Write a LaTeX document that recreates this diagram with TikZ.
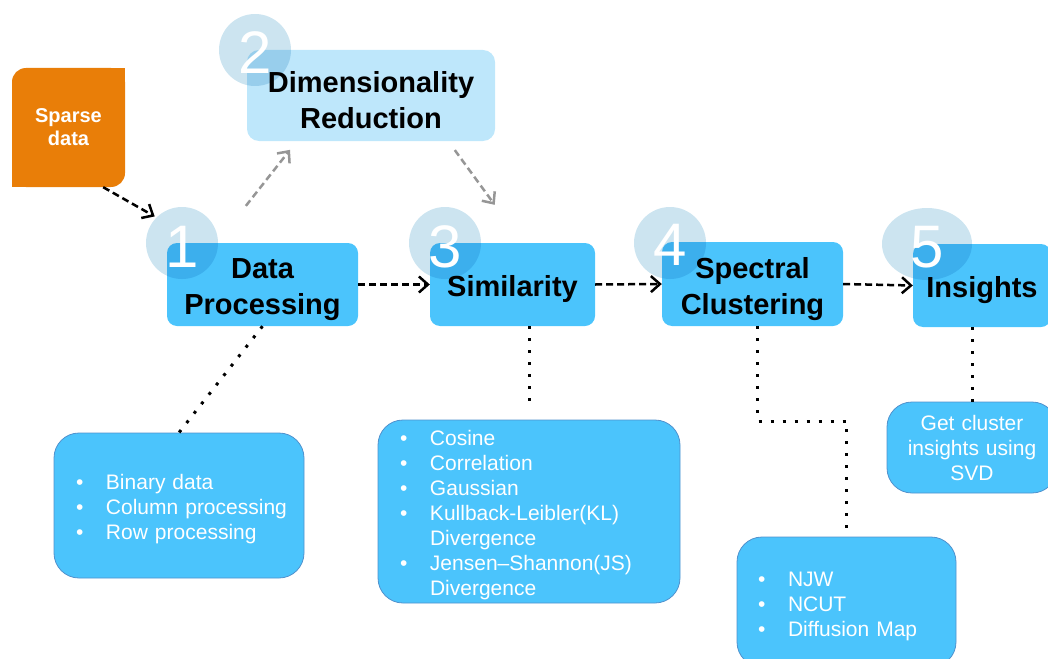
\documentclass[tikz,border=0pt]{standalone}
\usepackage{fontspec}
\setmainfont{Liberation Sans}
\usetikzlibrary{arrows.meta,calc,shapes.geometric}

\definecolor{boxblue}{RGB}{75,196,252}
\definecolor{paleblue}{RGB}{190,231,251}
\definecolor{badgeblue}{RGB}{204,228,240}
\definecolor{sparseorange}{RGB}{233,126,8}
\definecolor{edgeblue}{RGB}{80,145,205}
\definecolor{arrowgray}{RGB}{150,150,150}

\newcommand{\bul}{\makebox[30pt][l]{\textbullet}}
\newcommand{\cont}{\hspace*{30pt}}
\newcommand{\lift}{\rule{0pt}{31pt}}
\newcommand{\drop}{\rule{0pt}{23pt}}

\tikzset{
  stage/.style={fill=boxblue, rounded corners=10pt, align=center, inner sep=0pt,
    font=\bfseries\fontsize{29}{36}\selectfont},
  listbox/.style={fill=boxblue, draw=edgeblue, line width=0.8pt, rounded corners=25pt,
    align=left, text=white, inner sep=0pt, font=\fontsize{21}{25}\selectfont},
  badge/.style={circle, fill=badgeblue, minimum size=72, inner sep=0pt},
  badgenum/.style={text=white, font=\fontsize{60}{60}\selectfont, inner sep=0pt},
  flow/.style={dash pattern=on 7pt off 4pt, line width=2.5pt,
    -{Straight Barb[length=9pt,width=16pt]}},
  link/.style={dash pattern=on 3pt off 9pt, line width=3pt},
}

\begin{document}
\begin{tikzpicture}[x=1pt, y=-1pt]
  \useasboundingbox (0,0) rectangle (1048,658);
  \clip (0,0) rectangle (1048,658);

  % input
  \node[fill=sparseorange, rounded corners=14pt, minimum width=113, minimum height=119,
    text=white, align=center, font=\bfseries\fontsize{20}{23}\selectfont] (sparse) at (68.5,127.5) {Sparse\\data};
  \fill[sparseorange] (sparse.north east) rectangle ++(-14,14);
  \fill[sparseorange] (sparse.south west) rectangle ++(14,-14);

  % pipeline stages
  \node[stage, fill=paleblue, rounded corners=12pt, minimum width=248, minimum height=91] (dr) at (371,95.5) {\lift Dimensionality\\Reduction};
  \node[stage, minimum width=191, minimum height=83] (dp) at (262.5,284.5) {\lift Data\\Processing};
  \node[stage, minimum width=165, minimum height=83] (sim) at (512.5,284.5) {\lift Similarity};
  \node[stage, minimum width=181, minimum height=84] (sc) at (752.5,284) {\lift Spectral\\Clustering};
  \node[stage, minimum width=138, minimum height=83] (ins) at (982,285.5) {\lift Insights};

  % step badges
  \begin{scope}[blend mode=multiply]
    \node[badge] (n1) at (182,243) {};
    \node[badge] (n2) at (255,50) {};
    \node[badge] (n3) at (445,243) {};
    \node[badge] (n4) at (670,243) {};
    \node[badge, ellipse, minimum width=90, minimum height=72] (n5) at (927,244) {};
  \end{scope}
  \node[badgenum] (d1) at (182,247) {1};
  \node[badgenum] (d2) at (255,53) {2};
  \node[badgenum] (d3) at (445,247) {3};
  \node[badgenum] (d4) at (670,245) {4};
  \node[badgenum] (d5) at (927,247) {5};

  % flow
  \draw[flow, shorten >=2pt] ([xshift=-22pt]sparse.south east) -- (n1.north west);
  \draw[flow] (dp.east) -- (sim.west);
  \draw[flow] (sim.east) -- (sc.west);
  \draw[flow] (sc.east) -- (ins.west);
  \draw[flow, arrowgray, shorten <=47pt, shorten >=11pt] ($(dp.north west)+(50,0)$) -- ($(dr.south west)+(50,0)$);
  \draw[flow, arrowgray, shorten <=11pt, shorten >=47pt] ($(dr.south west)+(201.5,0)$) -- ($(sim.north west)+(92.6,0)$);

  % details
  \node[listbox, minimum width=250, minimum height=145, text width=206] (l1) at (179,505.5)
    {\drop\bul Binary data\\ \bul \mbox{Column processing}\\ \bul Row processing};
  \node[listbox, minimum width=302, minimum height=183, text width=258] (l2) at (529,511.5)
    {\drop\bul Cosine\\ \bul Correlation\\ \bul Gaussian\\ \bul Kullback-Leibler(KL)\\ \cont Divergence\\ \bul Jensen–Shannon(JS)\\ \cont Divergence};
  \node[listbox, minimum width=219, minimum height=130, text width=177] (l3) at (846.5,602)
    {\drop\bul NJW\\ \bul NCUT\\ \bul Diffusion Map};
  \node[listbox, align=center, minimum width=170, minimum height=91, text width=160] (txt) at (972,447.5)
    {Get cluster\\insights using\\SVD};

  \draw[link] (dp.south) -- (l1.north);
  \draw[link, shorten >=10pt] (l2.north |- sim.south) -- (l2.north);
  \draw[link] ([xshift=5pt]sc.south) -- ++(0,95) -| (l3.north);
  \draw[link] (txt.north |- ins.south) -- (txt.north);
\end{tikzpicture}
\end{document}
